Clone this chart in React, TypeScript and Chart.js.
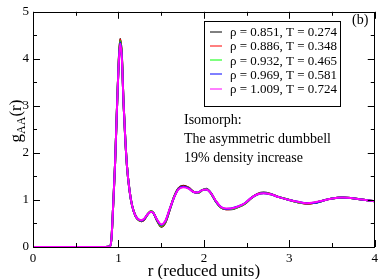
import React, { useEffect, useRef } from "react";
import { Chart, registerables } from "chart.js";

Chart.register(...registerables);

const R = [0, 0.85, 0.90, 0.92, 0.94, 0.96, 0.98, 1.00, 1.02, 1.04, 1.06, 1.08, 1.10, 1.13, 1.16, 1.20, 1.24, 1.27, 1.30, 1.34, 1.38, 1.41, 1.45, 1.50, 1.55, 1.60, 1.65, 1.70, 1.76, 1.82, 1.88, 1.93, 1.98, 2.03, 2.08, 2.14, 2.20, 2.26, 2.32, 2.40, 2.48, 2.56, 2.63, 2.70, 2.78, 2.88, 3.00, 3.10, 3.20, 3.30, 3.40, 3.50, 3.62, 3.72, 3.85, 4.00];

const G_0851 = [0, 0, 0.01, 0.22, 0.95, 1.75, 2.8, 3.8, 4.42, 4.08, 3.05, 2.3, 1.72, 1.2, 0.88, 0.66, 0.57, 0.55, 0.58, 0.69, 0.76, 0.72, 0.57, 0.43, 0.52, 0.79, 1.06, 1.24, 1.30, 1.26, 1.17, 1.15, 1.21, 1.24, 1.15, 0.97, 0.84, 0.80, 0.80, 0.85, 0.92, 1.05, 1.13, 1.16, 1.13, 1.06, 1.00, 0.95, 0.92, 0.94, 0.99, 1.03, 1.05, 1.04, 1.01, 0.97];
const G_0886 = [0, 0, 0.01, 0.22, 0.95, 1.75, 2.8, 3.8, 4.41, 4.07, 3.05, 2.3, 1.72, 1.2, 0.88, 0.66, 0.57, 0.55, 0.58, 0.69, 0.76, 0.72, 0.57, 0.44, 0.53, 0.79, 1.06, 1.24, 1.29, 1.26, 1.17, 1.15, 1.21, 1.23, 1.15, 0.97, 0.84, 0.80, 0.81, 0.85, 0.92, 1.05, 1.13, 1.15, 1.13, 1.06, 1.00, 0.95, 0.92, 0.94, 0.99, 1.03, 1.05, 1.04, 1.01, 0.97];
const G_0932 = [0, 0, 0.01, 0.22, 0.95, 1.75, 2.8, 3.79, 4.38, 4.05, 3.05, 2.3, 1.72, 1.2, 0.88, 0.66, 0.57, 0.56, 0.59, 0.69, 0.76, 0.72, 0.58, 0.45, 0.54, 0.80, 1.06, 1.23, 1.28, 1.25, 1.17, 1.15, 1.21, 1.23, 1.15, 0.97, 0.84, 0.81, 0.81, 0.85, 0.92, 1.05, 1.12, 1.15, 1.12, 1.06, 1.00, 0.95, 0.93, 0.94, 0.99, 1.03, 1.05, 1.04, 1.01, 0.97];
const G_0969 = [0, 0, 0.01, 0.22, 0.95, 1.75, 2.8, 3.78, 4.35, 4.03, 3.05, 2.3, 1.72, 1.2, 0.88, 0.66, 0.58, 0.56, 0.59, 0.69, 0.75, 0.72, 0.58, 0.47, 0.55, 0.80, 1.05, 1.23, 1.28, 1.25, 1.17, 1.16, 1.21, 1.22, 1.15, 0.97, 0.85, 0.81, 0.82, 0.86, 0.93, 1.05, 1.12, 1.14, 1.12, 1.06, 1.00, 0.96, 0.93, 0.94, 0.99, 1.03, 1.05, 1.04, 1.01, 0.97];
const G_1009 = [0, 0, 0.01, 0.22, 0.95, 1.75, 2.8, 3.77, 4.32, 4.01, 3.05, 2.3, 1.72, 1.2, 0.88, 0.66, 0.58, 0.57, 0.60, 0.69, 0.75, 0.72, 0.59, 0.48, 0.56, 0.81, 1.05, 1.22, 1.27, 1.24, 1.17, 1.16, 1.21, 1.22, 1.15, 0.98, 0.85, 0.82, 0.82, 0.86, 0.93, 1.05, 1.12, 1.14, 1.12, 1.06, 1.00, 0.96, 0.93, 0.95, 0.99, 1.03, 1.05, 1.04, 1.01, 0.97];

const SERIES = [G_0851, G_0886, G_0932, G_0969, G_1009];
const LABELS = ["\u03c1 = 0.851, T = 0.274", "\u03c1 = 0.886, T = 0.348", "\u03c1 = 0.932, T = 0.465", "\u03c1 = 0.969, T = 0.581", "\u03c1 = 1.009, T = 0.724"];
const COLORS = ["#000000", "#ff0000", "#00ff00", "#0000ff", "#ff00ff"];
const X_TICKS = [0, 1, 2, 3, 4];
const Y_TICKS = [0, 1, 2, 3, 4, 5];
const ANNOTATION = ["Isomorph:", "The asymmetric dumbbell", "19% density increase"];
const PANEL = "(b)";
const X_TITLE = "r (reduced units)";

const SERIF = "'Liberation Serif', 'DejaVu Serif', serif";
Chart.defaults.font.family = SERIF;

const decor = {
  id: "decor",
  afterDraw(chart: any) {
    const ctx = chart.ctx;
    const { left, right, top, bottom } = chart.chartArea;
    const xs = chart.scales.x;
    const ys = chart.scales.y;
    ctx.save();
    ctx.strokeStyle = "#000";
    ctx.lineWidth = 1;
    ctx.strokeRect(Math.round(left) + 0.5, Math.round(top) + 0.5, Math.round(right - left) - 1, Math.round(bottom - top));
    ctx.beginPath();
    for (let v = 0; v <= 4.001; v += 0.5) {
      const px = Math.round(xs.getPixelForValue(v)) + 0.5;
      const len = Math.abs(v - Math.round(v)) < 1e-6 ? 7 : 4;
      ctx.moveTo(px, bottom); ctx.lineTo(px, bottom - len);
      ctx.moveTo(px, top); ctx.lineTo(px, top + len);
    }
    for (let v = 0; v <= 5.001; v += 0.5) {
      const py = Math.round(ys.getPixelForValue(v)) + 0.5;
      const len = Math.abs(v - Math.round(v)) < 1e-6 ? 7 : 4;
      ctx.moveTo(left, py); ctx.lineTo(left + len, py);
      ctx.moveTo(right, py); ctx.lineTo(right - len, py);
    }
    ctx.stroke();

    ctx.fillStyle = "#000";
    ctx.font = `17px ${SERIF}`;
    ctx.textAlign = "center";
    ctx.textBaseline = "alphabetic";
    ctx.fillText(X_TITLE, (left + right) / 2, 276);

    ctx.save();
    ctx.translate(21, 121);
    ctx.rotate(-Math.PI / 2);
    ctx.textAlign = "left";
    ctx.font = `17px ${SERIF}`;
    const wg = ctx.measureText("g").width;
    ctx.font = `12px ${SERIF}`;
    const wa = ctx.measureText("AA").width;
    ctx.font = `17px ${SERIF}`;
    const wr = ctx.measureText("(r)").width;
    const total = wg + wa + wr;
    const x0 = -total / 2;
    ctx.font = `17px ${SERIF}`;
    ctx.fillText("g", x0, 0);
    ctx.font = `12px ${SERIF}`;
    ctx.fillText("AA", x0 + wg, 4);
    ctx.font = `17px ${SERIF}`;
    ctx.fillText("(r)", x0 + wg + wa, 0);
    ctx.restore();

    ctx.font = `14px ${SERIF}`;
    ctx.textAlign = "left";
    ctx.textBaseline = "middle";
    ctx.fillText(PANEL, 352, 20);

    ctx.strokeRect(204.5, 21.5, 136, 85);
    ctx.font = `13px ${SERIF}`;
    for (let i = 0; i < LABELS.length; i++) {
      const y = 31.5 + i * 14.3;
      ctx.strokeStyle = COLORS[i];
      ctx.lineWidth = 1;
      ctx.beginPath();
      ctx.moveTo(210, Math.round(y));
      ctx.lineTo(222, Math.round(y));
      ctx.stroke();
      ctx.fillText(LABELS[i], 230, y + 1);
    }

    ctx.font = `14px ${SERIF}`;
    for (let i = 0; i < ANNOTATION.length; i++) {
      ctx.fillText(ANNOTATION[i], 184, 120 + i * 19);
    }
    ctx.restore();
  },
};

export default function App() {
  const ref = useRef<HTMLCanvasElement | null>(null);
  useEffect(() => {
    if (!ref.current) return;
    const datasets = SERIES.map((s, i) => ({
      label: LABELS[i],
      data: R.map((r, j) => ({ x: r, y: s[j] })),
      borderColor: COLORS[i],
      borderWidth: 2,
      pointRadius: 0,
      fill: false,
      cubicInterpolationMode: "monotone" as const,
      order: SERIES.length - 1 - i,
    }));
    const chart = new Chart(ref.current, {
      type: "line",
      data: { datasets },
      plugins: [decor],
      options: {
        animation: false,
        responsive: false,
        maintainAspectRatio: false,
        layout: { padding: { top: 5, right: 4, left: 0, bottom: 0 } },
        plugins: { legend: { display: false }, tooltip: { enabled: false } },
        scales: {
          x: {
            type: "linear",
            min: 0,
            max: 4,
            afterBuildTicks: (s: any) => { s.ticks = X_TICKS.map((v) => ({ value: v })); },
            afterFit: (s: any) => { s.height = 32; },
            grid: { display: false, drawTicks: false },
            border: { display: false },
            ticks: { color: "#000", font: { family: SERIF, size: 13 }, padding: 4, maxRotation: 0 },
          },
          y: {
            type: "linear",
            min: 0,
            max: 5,
            afterBuildTicks: (s: any) => { s.ticks = Y_TICKS.map((v) => ({ value: v })); },
            afterFit: (s: any) => { s.width = 33; },
            grid: { display: false, drawTicks: false },
            border: { display: false },
            ticks: { color: "#000", font: { family: SERIF, size: 13 }, padding: 4 },
          },
        },
      },
    });
    return () => chart.destroy();
  }, []);
  return (
    <div style={{ position: "absolute", left: 0, top: 0, width: 382, height: 279, background: "#fff" }}>
      <canvas ref={ref} width={382} height={279} style={{ width: 382, height: 279 }} />
    </div>
  );
}
